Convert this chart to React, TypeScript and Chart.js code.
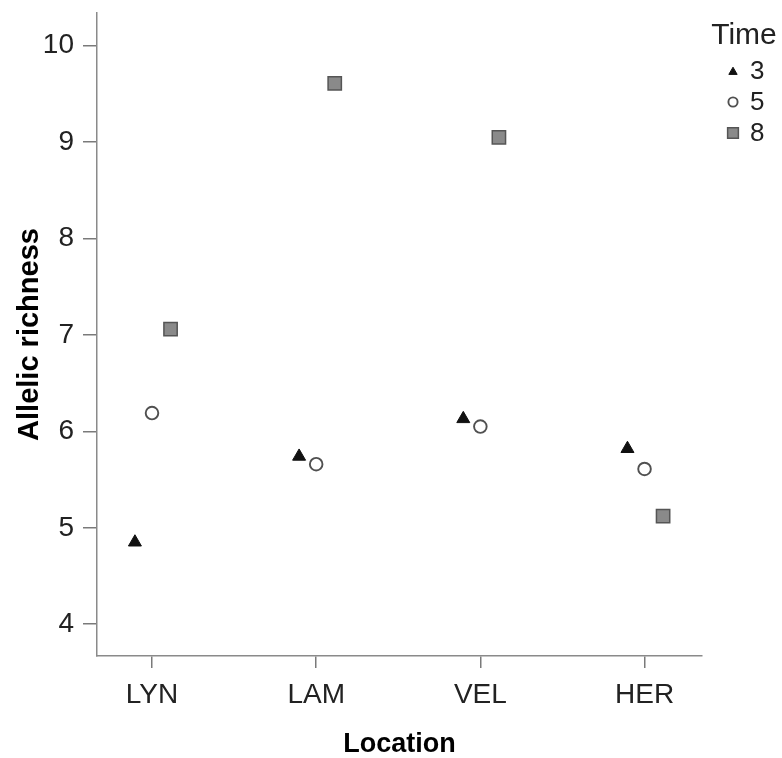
import React, { useEffect, useRef } from "react";
import { Chart, registerables } from "chart.js";
import { drawPoint } from "chart.js/helpers";

Chart.register(...registerables);

const categories = ["LYN", "LAM", "VEL", "HER"];
const legendTitle = "Time";
const timeLabels = ["3", "5", "8"];
const time3 = [4.85, 5.74, 6.13, 5.82];
const time5 = [6.19, 5.66, 6.05, 5.61];
const time8 = [7.06, 9.61, 9.05, 5.12];
const dodge = [-0.104, 0, 0.113];
const yTicks = [4, 5, 6, 7, 8, 9, 10];

const FONT = "'Liberation Sans', Arial, sans-serif";

const pointStyles = ["triangle", "circle", "rect"];
const fillColors = ["#111111", "#ffffff", "#8a8a8a"];
const strokeColors = ["#111111", "#505050", "#555555"];
const strokeWidths = [1, 1.9, 1.5];
const pointRadii = [7.5, 6.3, 9.4];
const legendRadii = [4.8, 4.6, 7.6];

const legendPlugin = {
  id: "timeLegend",
  afterDraw(chart: any) {
    const ctx = chart.ctx as CanvasRenderingContext2D;
    ctx.save();
    ctx.fillStyle = "#222";
    ctx.textBaseline = "middle";
    ctx.textAlign = "center";
    ctx.font = `30px ${FONT}`;
    ctx.fillText(legendTitle, 744, 36);
    ctx.font = `26px ${FONT}`;
    ctx.textAlign = "left";
    chart.data.datasets.forEach((ds: any, i: number) => {
      const y = 71 + i * 31;
      ctx.fillStyle = fillColors[i];
      ctx.strokeStyle = strokeColors[i];
      ctx.lineWidth = strokeWidths[i];
      drawPoint(
        ctx,
        { pointStyle: ds.pointStyle, radius: legendRadii[i], borderWidth: strokeWidths[i], rotation: 0 } as any,
        733,
        i === 0 ? y + 1 : y
      );
      ctx.fillStyle = "#222";
      ctx.fillText(ds.label, 750, y + 1);
    });
    ctx.restore();
  },
};

export default function App() {
  const ref = useRef<HTMLCanvasElement | null>(null);

  useEffect(() => {
    if (!ref.current) return;
    const series = [time3, time5, time8];
    const datasets = series.map((vals, s) => ({
      label: timeLabels[s],
      data: vals.map((v, i) => ({ x: i + 1 + dodge[s], y: v })),
      pointStyle: pointStyles[s] as any,
      backgroundColor: fillColors[s],
      borderColor: strokeColors[s],
      borderWidth: strokeWidths[s],
      pointBackgroundColor: fillColors[s],
      pointBorderColor: strokeColors[s],
      pointBorderWidth: strokeWidths[s],
      pointRadius: pointRadii[s],
      pointHoverRadius: pointRadii[s],
      showLine: false,
      xAxisID: "x",
      yAxisID: "y",
    }));

    const chart = new Chart(ref.current, {
      type: "scatter",
      data: { datasets },
      plugins: [legendPlugin],
      options: {
        animation: false,
        responsive: false,
        layout: { padding: 0 },
        plugins: {
          tooltip: { enabled: false },
          legend: { display: false },
        },
        scales: {
          x: {
            type: "linear",
            position: "bottom",
            min: 0.665,
            max: 4.35,
            afterBuildTicks: (s: any) => {
              s.ticks = categories.map((_, i) => ({ value: i + 1 }));
            },
            afterFit: (s: any) => {
              s.height = 102;
              s.paddingLeft = 0;
              s.paddingRight = 0;
            },
            ticks: {
              autoSkip: false,
              maxRotation: 0,
              padding: 10,
              color: "#222",
              font: { family: FONT, size: 28 },
              callback: (v: any) => categories[Math.round(Number(v)) - 1] ?? "",
            },
            grid: { drawOnChartArea: false, drawTicks: true, tickLength: 12, color: "#7a7a7a", lineWidth: 1.5 },
            border: { display: true, color: "#8a8a8a", width: 1.5 },
            title: {
              display: true,
              text: "Location",
              color: "#000",
              font: { family: FONT, size: 27, weight: "bold", lineHeight: 1 },
              padding: { top: 10, bottom: 0 },
            },
          },
          y: {
            type: "linear",
            position: "left",
            min: 3.67,
            max: 10.34,
            afterBuildTicks: (s: any) => {
              s.ticks = yTicks.map((v) => ({ value: v }));
            },
            afterFit: (s: any) => {
              s.width = 97;
              s.paddingTop = 0;
              s.paddingBottom = 0;
            },
            ticks: {
              padding: 9,
              color: "#222",
              font: { family: FONT, size: 28 },
              callback: (v: any) => String(v),
            },
            grid: { drawOnChartArea: false, drawTicks: true, tickLength: 14, color: "#7a7a7a", lineWidth: 1.5 },
            border: { display: true, color: "#8a8a8a", width: 1.5 },
            title: {
              display: true,
              text: "Allelic richness",
              color: "#000",
              font: { family: FONT, size: 29, weight: "bold" },
              padding: { top: 12.6, bottom: 0 },
            },
          },
          x2: {
            type: "linear",
            position: "top",
            display: true,
            ticks: { display: false },
            grid: { display: false },
            border: { display: false },
            afterFit: (s: any) => {
              s.height = 13;
              s.paddingLeft = 0;
              s.paddingRight = 0;
            },
          },
          y2: {
            type: "linear",
            position: "right",
            display: true,
            ticks: { display: false },
            grid: { display: false },
            border: { display: false },
            afterFit: (s: any) => {
              s.width = 80;
              s.paddingTop = 0;
              s.paddingBottom = 0;
            },
          },
        },
      },
    });
    return () => chart.destroy();
  }, []);

  return (
    <div style={{ position: "absolute", left: 0, top: 0, width: 782, height: 758, background: "#fff" }}>
      <canvas ref={ref} width={782} height={758} style={{ display: "block" }} />
    </div>
  );
}
